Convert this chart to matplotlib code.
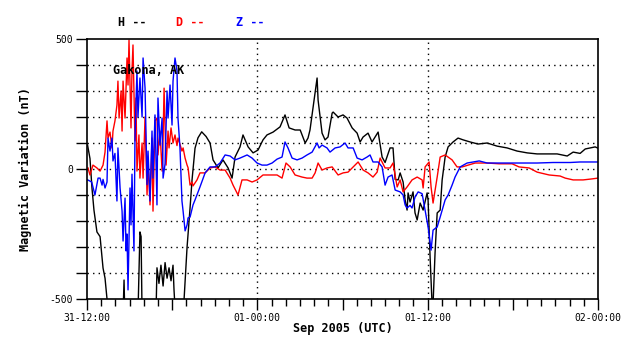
import matplotlib
matplotlib.use("Agg")
import matplotlib.pyplot as plt
from matplotlib.ticker import MultipleLocator, FuncFormatter

# hours after 31-12:00 UTC, values in nT
h_time = [0.04, 0.21, 0.35, 0.49, 0.70, 0.92, 1.13, 1.27, 1.41, 1.62, 2.33, 2.54, 2.61, 2.68,
          3.03, 3.59, 3.73, 3.81, 3.88, 4.44, 4.86, 4.93, 5.07, 5.21, 5.36, 5.50, 5.64, 5.78,
          5.92, 6.06, 6.13, 6.27, 6.69, 6.84, 7.05, 7.26, 7.40, 7.61, 7.82, 8.08, 8.39, 8.67,
          8.88, 9.23, 9.58, 9.94, 10.22, 10.43, 10.78, 10.99, 11.35, 11.70, 12.05, 12.40, 12.68,
          13.11, 13.60, 13.95, 14.24, 14.66, 15.02, 15.37, 15.57, 15.71, 15.93, 16.21, 16.28,
          16.56, 16.77, 16.98, 17.27, 17.34, 17.69, 18.04, 18.32, 18.68, 19.03, 19.24, 19.45,
          19.80, 20.08, 20.51, 20.79, 21.00, 21.35, 21.56, 21.71, 21.92, 22.06, 22.27, 22.41,
          22.55, 22.62, 22.76, 22.97, 23.11, 23.26, 23.47, 23.68, 23.96, 24.03, 24.17, 24.31,
          24.38, 24.52, 24.67, 24.88, 25.02, 25.23, 25.44, 25.79, 26.14, 26.50, 26.99, 27.55,
          28.19, 28.89, 29.60, 30.30, 31.01, 31.71, 32.42, 33.12, 33.83, 34.25, 34.74, 35.10,
          35.45, 35.80, 36.00]
h_vals = [92, 40, -73, -158, -242, -260, -381, -420, -500, -650, -600, -560, -427, -600,
          -650, -560, -242, -260, -560, -650, -560, -380, -440, -370, -450, -360, -420, -380,
          -430, -370, -465, -600, -550, -500, -300, -150, -42, 80, 120, 143, 125, 100,
          35, 4, 35, 4, -35, 46, 85, 131, 85, 62, 73, 112, 131,
          142, 162, 208, 158, 150, 150, 100, 119, 150, 238, 350, 265,
          138, 112, 123, 215, 219, 200, 208, 196, 158, 138, 104, 123,
          138, 104, 142, 46, 25, 81, 81, -40, -42, -15, -50, -119,
          -158, -92, -127, -88, -169, -196, -131, -158, -92, -120, -338, -520,
          -520, -323, -169, -158, -42, 46, 85, 104, 119, 112, 104, 96,
          100, 88, 81, 69, 62, 58, 58, 58, 50, 65, 60, 77,
          81, 85, 80]

d_time = [0.07, 0.21, 0.42, 0.70, 0.92, 1.13, 1.27, 1.41, 1.48, 1.62, 1.76, 1.83, 1.97, 2.11,
          2.18, 2.26, 2.40, 2.47, 2.54, 2.68, 2.82, 2.89, 2.96, 3.10, 3.17, 3.24, 3.38, 3.45,
          3.52, 3.66, 3.73, 3.88, 3.95, 4.09, 4.23, 4.30, 4.44, 4.58, 4.65, 4.79, 4.93, 5.00,
          5.14, 5.29, 5.36, 5.43, 5.57, 5.71, 5.78, 5.92, 6.06, 6.20, 6.34, 6.41, 6.55, 6.69,
          6.77, 6.91, 7.05, 7.12, 7.26, 7.40, 7.47, 7.75, 7.96,
          8.32, 8.67, 9.02, 9.37, 9.73, 10.08, 10.29, 10.64, 10.92, 11.28, 11.63, 11.98, 12.40,
          12.90, 13.39, 13.74, 14.02, 14.31, 14.66, 15.15, 15.50, 15.86, 16.07, 16.28, 16.56,
          16.91, 17.27, 17.69, 18.04, 18.39, 18.75, 19.10, 19.45, 19.80, 20.15, 20.44, 20.65,
          21.00, 21.35, 21.56, 21.85, 22.06, 22.27, 22.55, 22.90, 23.26, 23.61, 23.68, 23.82,
          24.10, 24.24, 24.38, 24.67, 24.88, 25.23, 25.44, 25.72, 26.07, 26.43, 26.85, 27.34,
          28.19, 29.03, 29.95, 30.44, 31.15, 31.71, 32.56, 33.33, 33.69, 34.25, 34.95, 35.59,
          36.00]
d_vals = [4, -23, 15, 4, -8, 15, 65, 185, 119, 142, 81, 146, 185, 246,
          338, 196, 300, 146, 338, 196, 427, 323, 496, 158, 377, 477, 108, 273,
          -8, 131, -35, 100, -35, 200, -100, 30, -138, 119, -162, 185, 196, 54,
          146, -8, 119, 311, 15, 146, 81, 158, 100, 131, 90, 119, 95, 69,
          81, 42, 15, 5, -62, -50, -65, -42, -15,
          -15, 4, 8, -4, -4, -35, -62, -100, -42, -42, -50, -42, -23,
          -23, -23, -35, 23, 8, -23, -31, -35, -35, -15, 23, -4,
          4, 8, -23, -15, -12, 8, 27, -4, -15, -31, -12, 42,
          4, 4, 23, -69, -42, -88, -69, -42, -31, -42, -73, 8,
          27, -69, -131, -31, 46, 54, 46, 35, 8, 8, 15, 23,
          23, 20, 20, 8, 4, -12, -23, -27, -35, -42, -42, -38,
          -35]

z_time = [0.05, 0.33, 0.56, 0.78, 0.92, 1.06, 1.13, 1.27, 1.41, 1.48, 1.62, 1.76, 1.83, 1.97,
          2.11, 2.18, 2.33, 2.47, 2.54, 2.68, 2.75, 2.82, 2.89, 3.03, 3.10, 3.17, 3.31, 3.38,
          3.52, 3.59, 3.73, 3.88, 3.95, 4.09, 4.23, 4.30, 4.44, 4.58, 4.65, 4.79, 4.93, 5.00,
          5.14, 5.29, 5.36, 5.50, 5.64, 5.71, 5.85, 5.99, 6.06, 6.20, 6.34, 6.41, 6.55, 6.69,
          6.77, 6.91, 7.05, 7.12, 7.26, 7.47, 7.61, 7.96, 8.32,
          8.67, 9.02, 9.37, 9.73, 10.08, 10.43, 10.78, 11.28, 11.63, 11.98, 12.33, 12.68, 13.04,
          13.39, 13.74, 13.95, 14.16, 14.45, 14.80, 15.15, 15.50, 15.86, 16.21, 16.35, 16.56,
          16.91, 17.12, 17.48, 17.83, 18.18, 18.39, 18.75, 19.03, 19.38, 19.73, 19.94, 20.15,
          20.51, 20.79, 21.00, 21.21, 21.49, 21.71, 22.06, 22.27, 22.41, 22.55, 22.76, 22.90,
          23.11, 23.33, 23.61, 23.82, 24.03, 24.24, 24.38, 24.67, 24.88, 25.23, 25.44, 25.72,
          25.93, 26.29, 26.78, 27.20, 27.63, 28.19, 29.24, 30.44, 31.71, 32.84, 34.04, 34.74,
          36.00]
z_vals = [-42, -50, -100, -35, -35, -62, -40, -73, -50, 119, 69, 119, 31, 60,
          -123, 81, -73, -162, -277, -112, -315, -250, -465, -73, -215, -20, -315, 119,
          377, 200, 350, 200, 427, 311, -60, 69, -123, 146, -35, 208, -138, 273,
          92, 196, -35, 20, 300, 196, 323, 169, 338, 427, 377, 196, 81, -123,
          -162, -238, -215, -188, -185, -138, -119, -69, -15,
          8, 8, 23, 54, 50, 35, 42, 54, 42, 23, 15, 15, 23,
          38, 46, 104, 81, 42, 35, 42, 54, 65, 100, 81, 92,
          81, 65, 81, 85, 100, 81, 81, 42, 35, 46, 54, 27,
          27, 8, -62, -31, -23, -81, -88, -100, -138, -150, -140, -150,
          -108, -88, -95, -158, -223, -312, -235, -223, -185, -119, -100, -62,
          -31, 8, 23, 27, 31, 23, 23, 23, 23, 25, 25, 27,
          27]

x_labels = ["31-12:00", "01-00:00", "01-12:00", "02-00:00"]
mono = "DejaVu Sans Mono"

fig = plt.figure(figsize=(6.38, 3.59), dpi=100)
ax = fig.add_axes([87 / 638, 1 - 299 / 359, 511 / 638, 260 / 359])

ax.plot(h_time, h_vals, color="black", lw=1.0)
ax.plot(d_time, d_vals, color="red", lw=1.0)
ax.plot(z_time, z_vals, color="blue", lw=1.0)

ax.set_xlim(0, 36)
ax.set_ylim(-500, 500)

# dotted grid: every 100 nT, and only the two inner day/half-day lines
for yv in range(-400, 500, 100):
    ax.axhline(yv, color="black", lw=1.0, ls=(0, (1, 3)), zorder=0)
for xv in (12, 24):
    ax.axvline(xv, color="black", lw=1.0, ls=(0, (1, 3)), zorder=0)

ax.xaxis.set_major_locator(MultipleLocator(6))
ax.xaxis.set_minor_locator(MultipleLocator(1))
ax.xaxis.set_major_formatter(FuncFormatter(
    lambda v, p: x_labels[int(v) // 12] if int(v) % 12 == 0 else ""))
ax.yaxis.set_major_locator(MultipleLocator(100))
ax.yaxis.set_major_formatter(FuncFormatter(
    lambda v, p: "%d" % v if int(v) in (-500, 0, 500) else ""))

ax.tick_params(axis="both", which="major", direction="out", length=8, width=1,
               labelsize=7, pad=2)
ax.tick_params(axis="x", which="minor", direction="out", length=5, width=1)
for lab in ax.get_xticklabels() + ax.get_yticklabels():
    lab.set_family(mono)

for sp in ax.spines.values():
    sp.set_linewidth(1.2)

ax.set_xlabel("Sep 2005 (UTC)", family=mono, fontsize=8.5, fontweight="bold")
ax.xaxis.set_label_coords(0.5, -0.09)
ax.set_ylabel("Magnetic Variation (nT)", family=mono, fontsize=8.5, fontweight="bold")
ax.yaxis.set_label_coords(-0.107, 0.5)

# station name sits inside the plot area
fig.text(113 / 638, 1 - 71 / 359, "Gakona, AK", family=mono, fontsize=8.5,
         fontweight="bold", va="center", zorder=5)

for label, col, xp in (("H --", "black", 118), ("D --", "red", 176), ("Z --", "blue", 236)):
    fig.text(xp / 638, 1 - 22 / 359, label, color=col, family=mono, fontsize=8.5,
             fontweight="bold", va="center")

fig.savefig("out.png", dpi=100)
